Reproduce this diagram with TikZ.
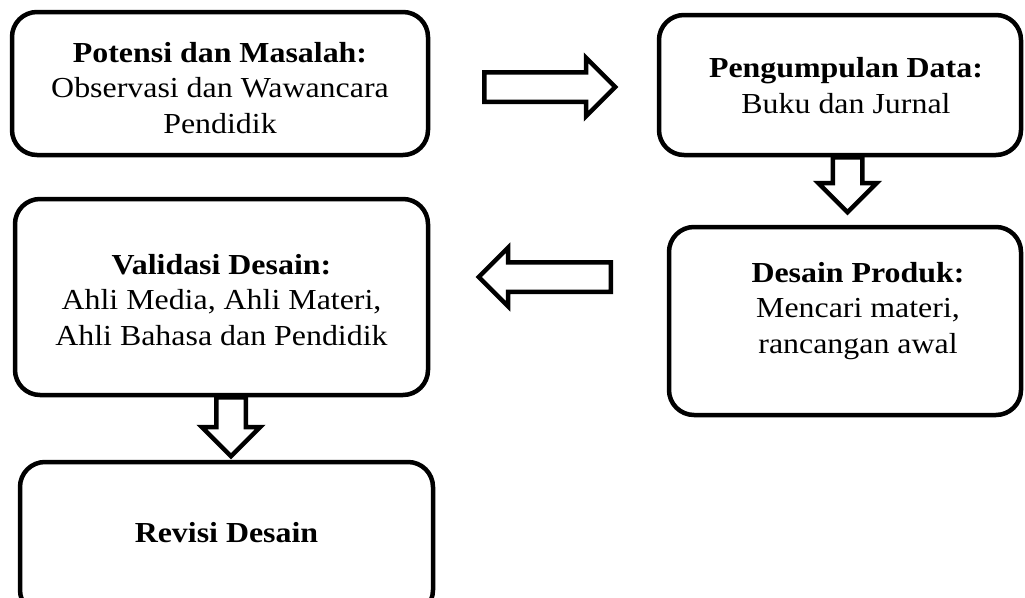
\documentclass[tikz,border=0pt]{standalone}
\usepackage{fontspec}
\setmainfont{Liberation Serif}[FakeStretch=1.1]
\usepackage{tikz}
\usetikzlibrary{shapes.arrows}

\tikzset{
  box/.style={draw, line width=4.5, rounded corners=25, inner sep=0},
  isi/.style={inner sep=0, align=center, font=\fontsize{29}{35.5}\selectfont},
  panah/.style={draw, line width=4.5, single arrow, single arrow tip angle=90, single arrow head extend=14.5, inner xsep=0, inner ysep=12.5, minimum width=54, anchor=tail}
}

\begin{document}
\begin{tikzpicture}[x=1pt, y=-1pt]
\useasboundingbox (0,0) rectangle (1025,597);
\node[box, minimum width=416, minimum height=143] (potensi) at (220,83.5) {};
\node[box, minimum width=362, minimum height=140] (pengumpulan) at (840,85) {};
\node[box, minimum width=413, minimum height=196] (validasi) at (221.5,297) {};
\node[box, minimum width=352, minimum height=188] (desain) at (845,321) {};
\node[box, minimum width=413, minimum height=153] (revisi) at (226.5,538.5) {};
\node[isi] (potensiisi) at (220,87.7) {\textbf{Potensi dan Masalah:}\\Observasi dan Wawancara\\Pendidik};
\node[isi] (pengumpulanisi) at (846,85.7) {\textbf{Pengumpulan Data:}\\Buku dan Jurnal};
\node[isi] (validasiisi) at (221.5,299.7) {\textbf{Validasi Desain:}\\Ahli Media, Ahli Materi,\\Ahli Bahasa dan Pendidik};
\node[isi] (desainisi) at (858,311) {\textbf{Desain Produk:}\\Mencari materi,\\rancangan awal};
\node[isi] (revisiisi) at (226.5,533) {\textbf{Revisi Desain}};
\node[panah, minimum height=131] (panah1) at (482,87) {};
\node[panah, minimum height=55, rotate=-90] (panah2) at (847.5,155) {};
\node[panah, minimum height=132, rotate=180] (panah3) at (613,277) {};
\node[panah, minimum height=59, rotate=-90] (panah4) at (231,395) {};
\end{tikzpicture}
\end{document}
